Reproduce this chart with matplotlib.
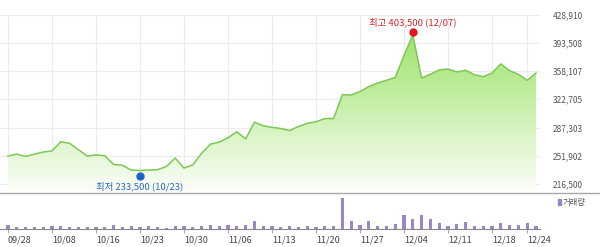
import numpy as np
import matplotlib
matplotlib.use("Agg")
import matplotlib.pyplot as plt
from matplotlib.lines import Line2D
from matplotlib.transforms import offset_copy

plt.rcParams['font.family'] = ['Noto Sans CJK KR', 'DejaVu Sans']

# trading days (2020)
dates = ["09/28", "09/29",
         "10/05", "10/06", "10/07", "10/08", "10/12", "10/13", "10/14", "10/15", "10/16",
         "10/19", "10/20", "10/21", "10/22", "10/23", "10/26", "10/27", "10/28", "10/29", "10/30",
         "11/02", "11/03", "11/04", "11/05", "11/06", "11/09", "11/10", "11/11", "11/12", "11/13",
         "11/16", "11/17", "11/18", "11/19", "11/20", "11/23", "11/24", "11/25", "11/26", "11/27",
         "11/30", "12/01", "12/02", "12/03", "12/04", "12/07", "12/08", "12/09", "12/10", "12/11",
         "12/14", "12/15", "12/16", "12/17", "12/18", "12/21", "12/22", "12/23", "12/24", "12/28"]

price = [251500, 254000, 251000, 254000, 256500, 258000, 269500, 267500, 259500, 251500, 253000,
         252000, 241000, 240000, 234000, 233500, 234000, 234500, 238500, 249000, 236500,
         240500, 255000, 266500, 269000, 274500, 282000, 273000, 294000, 289500, 287500,
         286000, 283500, 288500, 292500, 294500, 298500, 298500, 328500, 328000, 332500,
         338500, 343000, 346500, 350000, 377500, 403500, 349500, 354000, 359500, 360500,
         357000, 359000, 353500, 351000, 355500, 367000, 358500, 354000, 346500, 355500]

volume = [370000, 170000, 170000, 170000, 170000, 270000, 270000, 170000, 170000, 170000, 170000,
          170000, 370000, 170000, 270000, 170000, 270000, 170000, 70000, 270000, 270000,
          170000, 270000, 370000, 270000, 370000, 270000, 370000, 800000, 270000, 250000,
          150000, 230000, 130000, 230000, 130000, 230000, 230000, 3030000, 730000, 400000,
          800000, 300000, 300000, 470000, 1330000, 930000, 1330000, 930000, 530000, 300000,
          470000, 630000, 300000, 230000, 230000, 530000, 400000, 400000, 530000, 300000]

tick_idx = [0, 5, 10, 15, 20, 25, 30, 35, 40, 45, 50, 55, 59]
yticks = [216500, 251902, 287303, 322705, 358107, 393508, 428910]
ytick_labels = ["216,500", "251,902", "287,303", "322,705", "358,107", "393,508", "428,910"]

x = np.arange(len(price))
W, H = 600, 247

fig = plt.figure(figsize=(6, 2.47), dpi=100)
fig.patch.set_facecolor('white')

# price panel
ax = fig.add_axes([0, (H - 192) / H, 540 / W, (192 - 14.5) / H])
step = yticks[1] - yticks[0]
ylo = yticks[0] - step * 8 / 28.33
yhi = yticks[-1]
xlo, xhi = -8 / 8.8, (540 - 8) / 8.8

grad = np.linspace(1, 0, 256).reshape(-1, 1)
top_c = np.array([160, 228, 108]) / 255
bot_c = np.array([252, 254, 250]) / 255
img = top_c * grad[..., None] + bot_c * (1 - grad[..., None])
poly = ax.fill_between(x, price, ylo, color='none', lw=0)
im = ax.imshow(img, extent=[xlo, xhi, ylo, 400000], aspect='auto', zorder=1)
im.set_clip_path(poly.get_paths()[0], transform=ax.transData)
ax.set_xlim(xlo, xhi)
ax.set_ylim(ylo, yhi)

ax.plot(x, price, color='#7cc857', lw=1.1, zorder=3)

ax.set_xticks(tick_idx)
ax.set_xticklabels([])
ax.set_yticks(yticks)
ax.set_yticklabels(ytick_labels)
ax.yaxis.tick_right()
ax.tick_params(axis='both', length=0)
ax.tick_params(axis='y', pad=9, labelsize=6, labelcolor='#555555')
ax.grid(True, color='#ebebeb', lw=0.8, zorder=0)
ax.set_axisbelow(True)
for s in ax.spines.values():
    s.set_visible(False)

imax = int(np.argmax(price))
imin = int(np.argmin(price))
ax.plot(imax, price[imax], 'o', color='#e8141e', ms=5, zorder=4,
        transform=offset_copy(ax.transData, fig=fig, x=0, y=3, units='dots'))
ax.plot(imin, price[imin], 'o', color='#1e64c8', ms=5, zorder=4,
        transform=offset_copy(ax.transData, fig=fig, x=0, y=-6, units='dots'))
ax.annotate("최고 %s (%s)" % (format(price[imax], ','), dates[imax]), (imax, price[imax]),
            xytext=(0, 12), textcoords='offset pixels', ha='center', va='center',
            fontsize=6.8, color='#d8232a')
ax.annotate("최저 %s (%s)" % (format(price[imin], ','), dates[imin]), (imin, price[imin]),
            xytext=(0, -16), textcoords='offset pixels', ha='center', va='center',
            fontsize=6.8, color='#2a6ab8')

fig.add_artist(Line2D([0, 1], [(H - 192.5) / H] * 2, transform=fig.transFigure,
                      color='#a8a8a8', lw=1))

# volume panel
vx = fig.add_axes([0, (H - 228.5) / H, 540 / W, (228.5 - 193) / H])
vx.bar(x, volume, width=0.38, color='#9a86c4', zorder=2)
vx.set_xlim(xlo, xhi)
vx.set_ylim(0, max(volume) * 35.5 / 30.3)
vx.set_yticks([])
vx.set_xticks(tick_idx)
vx.set_xticklabels([dates[i] for i in tick_idx], ha='left')
vx.tick_params(axis='x', length=3, color='#aaaaaa', labelsize=6.5, labelcolor='#444444', pad=2)
for s in ['top', 'left', 'right']:
    vx.spines[s].set_visible(False)
vx.spines['bottom'].set_color('#888888')
vx.patch.set_alpha(0)

fig.patches.append(plt.Rectangle((558 / W, (H - 205) / H), 2.5 / W, 6 / H,
                                 transform=fig.transFigure, color='#9a86c4'))
fig.text(563 / W, (H - 202) / H, "거래량", fontsize=6, color='#555555', va='center')

fig.savefig("out.png", dpi=100)
